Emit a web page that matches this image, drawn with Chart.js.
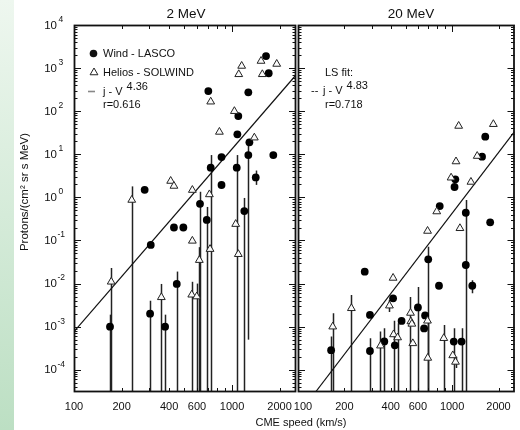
<!DOCTYPE html>
<html>
<head>
<meta charset="utf-8">
<script src="https://cdn.jsdelivr.net/npm/chart.js@4.4.1/dist/chart.umd.min.js"></script>
<style>
  html, body { margin: 0; padding: 0; background: #fff; }
  #wrap { position: relative; width: 520px; height: 430px; overflow: hidden; background: #fff; }
  #stripe { position: absolute; left: 0; top: 0; width: 14px; height: 430px;
    background: linear-gradient(to bottom, #eef7ef, #bcdfc3); }
  canvas { position: absolute; left: 0; top: 0; }
</style>
</head>
<body>
<div id="wrap">
  <div id="stripe"></div>
  <canvas id="mev2" width="520" height="430"></canvas>
  <canvas id="mev20" width="520" height="430"></canvas>
</div>
<script>
// axis ranges and tick labels
const speedMin = 100, speedMax = 2540;
const fluxMin = 3.05e-5, fluxMax = 1e4;
const speedTicks = [100, 200, 400, 600, 1000, 2000];
const speedTickLabels = ['100', '200', '400', '600', '1000', '2000'];
const fluxTickExps = [4, 3, 2, 1, 0, -1, -2, -3, -4];

// 2 MeV - Wind/LASCO (hi/lo = error bar ends, lo null = runs off the bottom)
const lascoSpeed2 = [169, 280, 303, 306, 377, 429, 447, 492, 627, 692, 708, 733, 858, 858, 1071, 1081, 1096, 1196, 1268, 1268, 1288, 1413, 1641, 1707, 1825];
const lascoFlux2 = [0.001, 1.5, 0.002, 0.079, 0.001, 0.2, 0.0098, 0.2, 0.71, 0.30, 293, 4.9, 1.94, 8.6, 4.9, 29, 77, 0.48, 274, 9.6, 19, 2.9, 1900, 760, 9.6];
const lascoHi2 = [0.0019, null, 0.004, null, 0.0019, null, 0.019, null, 1.35, 0.6, null, 9.6, null, null, 9.6, null, null, 0.97, null, 19, null, 4.2, null, null, null];
const lascoLo2 = [null, null, null, null, null, null, null, null, null, null, null, null, null, null, null, null, null, null, null, 0.0005, null, 1.95, null, null, null];

// 2 MeV - Helios/SOLWIND
const heliosSpeed2 = [172, 232, 357, 409, 429, 556, 598, 561, 561, 621, 719, 726, 733, 832, 1035, 1055, 1096, 1103, 1151, 1384, 1526, 1555, 1918];
const heliosFlux2 = [0.011, 0.87, 0.0048, 2.4, 1.84, 0.0055, 0.005, 1.48, 0.098, 0.035, 1.17, 0.063, 166, 33, 100, 0.24, 0.048, 718, 1120, 24.3, 1460, 718, 1245];
const heliosHi2 = [0.023, 1.8, 0.0098, null, null, 0.011, 0.01, null, null, 0.07, null, null, null, null, null, null, null, null, null, null, null, null, null];
const heliosLo2 = heliosHi2.map(() => null);

// 20 MeV - Wind/LASCO
const lascoSpeed20 = [1641, 1564, 1049, 1037, 831, 1227, 1766, 700, 1227, 271, 822, 1352, 414, 600, 293, 668, 470, 658, 363, 425, 1025, 1152, 164, 293];
const lascoFlux20 = [25.6, 8.8, 2.63, 1.74, 0.63, 0.44, 0.264, 0.0366, 0.027, 0.0189, 0.0089, 0.0089, 0.00456, 0.00279, 0.00187, 0.00182, 0.00136, 0.00091, 0.000454, 0.00037, 0.00045, 0.00045, 0.000285, 0.000273];
const lascoHi20 = [null, null, null, null, null, 0.87, null, 0.072, null, null, null, 0.012, null, 0.0083, null, null, null, null, 0.00092, null, 0.00092, 0.00092, 0.00059, 0.00054];
const lascoLo20 = [null, null, null, null, null, null, null, null, null, null, null, 0.006, null, null, null, null, null, null, null, null, null, null, null, null];

// 20 MeV - Helios/SOLWIND
const heliosSpeed20 = [1103, 1852, 1455, 1060, 985, 1325, 795, 693, 1124, 414, 392, 222, 537, 540, 548, 692, 168, 417, 443, 343, 556, 883, 1010, 1052, 695];
const heliosFlux20 = [45.4, 49.9, 9.1, 6.8, 2.86, 2.28, 0.47, 0.166, 0.192, 0.0135, 0.00307, 0.00267, 0.00208, 0.00132, 0.00116, 0.00137, 0.001, 0.00066, 0.00056, 0.000362, 0.00041, 0.00054, 0.000215, 0.000152, 0.000188];
const heliosHi20 = [null, null, null, null, null, null, null, null, null, null, 0.0042, 0.0054, 0.0049, null, null, null, 0.00205, 0.00138, 0.0012, 0.00077, null, 0.0011, null, 0.0002, 0.0012];
const heliosLo20 = [null, null, null, null, null, null, null, null, null, null, 0.0022, null, null, null, null, null, null, null, null, null, null, null, null, 0.00011, null];

// LS fit lines (end points)
const fitSpeed2 = [100, 2540], fitFlux2 = [7.7e-4, 692];
const fitSpeed20 = [130, 2540], fitFlux20 = [3.05e-5, 33.4];

const FONT = '"Liberation Sans", Arial, Helvetica, sans-serif';

function pts(xs, ys) {
    return xs.map((x, i) => ({ x: x, y: ys[i] }));
}

function logTicks(min, max) {
    const out = [];
    for (let e = Math.floor(Math.log10(min)); e <= Math.ceil(Math.log10(max)); e++) {
        for (let k = 1; k <= 9; k++) {
            const v = k * Math.pow(10, e);
            if (v >= min * 0.999 && v <= max * 1.001) out.push({ v: v, major: k === 1 });
        }
    }
    return out;
}

function tri(ctx, x, y, r) {
    ctx.beginPath();
    ctx.moveTo(x, y - r);
    ctx.lineTo(x + r * 0.866, y + r * 0.5);
    ctx.lineTo(x - r * 0.866, y + r * 0.5);
    ctx.closePath();
    ctx.fillStyle = '#fff';
    ctx.fill();
    ctx.strokeStyle = '#222';
    ctx.lineWidth = 1;
    ctx.stroke();
}

// text with a raised exponent
function supText(ctx, base, sup, x, y, size, supSize, raise) {
    ctx.textAlign = 'left';
    ctx.textBaseline = 'middle';
    ctx.font = size + 'px ' + FONT;
    ctx.fillText(base, x, y);
    const w = ctx.measureText(base).width;
    ctx.font = supSize + 'px ' + FONT;
    ctx.fillText(sup, x + w + 4, y - raise);
}

const panelPlugin = {
    id: 'panel',
    beforeDatasetsDraw(chart) {
        // error bars
        const ctx = chart.ctx, a = chart.chartArea;
        const xs = chart.scales.x, ys = chart.scales.y;
        ctx.save();
        ctx.beginPath();
        ctx.rect(a.left, a.top, a.right - a.left, a.bottom - a.top);
        ctx.clip();
        ctx.strokeStyle = '#222';
        ctx.lineWidth = 1.5;
        chart.data.datasets.forEach(ds => {
            if (!ds.hi) return;
            ds.data.forEach((p, i) => {
                if (ds.hi[i] == null) return;
                const px = Math.round(xs.getPixelForValue(p.x)) + 0.5;
                const top = ys.getPixelForValue(ds.hi[i]);
                const bot = ds.lo[i] == null ? a.bottom : ys.getPixelForValue(ds.lo[i]);
                ctx.beginPath();
                ctx.moveTo(px, top);
                ctx.lineTo(px, bot);
                ctx.stroke();
            });
        });
        ctx.restore();
    },
    afterDatasetsDraw(chart, args, opts) {
        const ctx = chart.ctx, a = chart.chartArea;
        const xs = chart.scales.x, ys = chart.scales.y;
        ctx.save();
        ctx.fillStyle = '#111';
        ctx.strokeStyle = '#111';

        // frame
        ctx.lineWidth = 1.8;
        ctx.strokeRect(a.left + 0.5, a.top + 0.5, a.right - a.left - 1, a.bottom - a.top - 1);

        // inward ticks on all sides
        ctx.lineWidth = 1;
        logTicks(fluxMin, fluxMax).forEach(t => {
            const y = Math.round(ys.getPixelForValue(t.v)) + 0.5;
            const len = t.major ? 7 : 3.5;
            ctx.beginPath();
            ctx.moveTo(a.left, y); ctx.lineTo(a.left + len, y);
            ctx.moveTo(a.right, y); ctx.lineTo(a.right - len, y);
            ctx.stroke();
        });
        logTicks(speedMin, speedMax).forEach(t => {
            const x = Math.round(xs.getPixelForValue(t.v)) + 0.5;
            const len = t.major ? 7 : 4;
            ctx.beginPath();
            ctx.moveTo(x, a.bottom); ctx.lineTo(x, a.bottom - len);
            ctx.moveTo(x, a.top); ctx.lineTo(x, a.top + len);
            ctx.stroke();
        });

        // x tick labels
        ctx.font = '11px ' + FONT;
        ctx.textAlign = 'center';
        ctx.textBaseline = 'middle';
        speedTicks.forEach((v, i) => {
            let x = xs.getPixelForValue(v);
            if (i === 0) x += opts.firstShift || 0;
            ctx.fillText(speedTickLabels[i], x, 407);
        });

        // y tick labels
        if (opts.yLabels) {
            fluxTickExps.forEach(e => {
                const y = ys.getPixelForValue(Math.pow(10, e));
                ctx.font = '11.5px ' + FONT;
                ctx.textAlign = 'right';
                ctx.textBaseline = 'middle';
                ctx.fillText('10', 57, y + 0.5);
                ctx.font = '8.5px ' + FONT;
                ctx.textAlign = 'left';
                ctx.fillText(String(e), e < 0 ? 57.5 : 58.5, y - 5.5);
            });
            // y axis title
            ctx.save();
            ctx.translate(25, 192);
            ctx.rotate(-Math.PI / 2);
            ctx.textAlign = 'center';
            ctx.textBaseline = 'middle';
            ctx.font = '11.5px ' + FONT;
            ctx.fillText('Protons/(cm\u00B2 sr s MeV)', 0, 0);
            ctx.restore();
            // x axis title
            ctx.font = '11px ' + FONT;
            ctx.textAlign = 'center';
            ctx.textBaseline = 'middle';
            ctx.fillText('CME speed (km/s)', 301, 423);
        }

        // panel title
        ctx.font = '13.5px ' + FONT;
        ctx.textAlign = 'center';
        ctx.textBaseline = 'middle';
        ctx.fillText(opts.title, opts.titleX, 14);

        // legend / fit annotation
        ctx.font = '11px ' + FONT;
        if (opts.legend === 'full') {
            ctx.beginPath();
            ctx.arc(93.5, 53.5, 3.8, 0, Math.PI * 2);
            ctx.fill();
            ctx.textAlign = 'left';
            ctx.textBaseline = 'middle';
            ctx.fillText('Wind - LASCO', 103, 53.5);
            tri(ctx, 94, 72.5, 4.5);
            ctx.fillStyle = '#111';
            ctx.fillText('Helios - SOLWIND', 103, 72.5);
            ctx.strokeStyle = '#888';
            ctx.lineWidth = 1.6;
            ctx.beginPath();
            ctx.moveTo(88, 91.5); ctx.lineTo(95, 91.5);
            ctx.stroke();
            supText(ctx, 'j - V', opts.exponent, 103, 91.5, 11, 11, 4.5);
            ctx.font = '11px ' + FONT;
            ctx.fillText(opts.r, 103, 104.5);
        } else {
            ctx.textAlign = 'left';
            ctx.textBaseline = 'middle';
            ctx.fillText('LS fit:', 325, 72.5);
            ctx.fillText('--', 311, 90.5);
            supText(ctx, 'j - V', opts.exponent, 323, 90.5, 11, 11, 4.5);
            ctx.font = '11px ' + FONT;
            ctx.fillText(opts.r, 325, 104.5);
        }
        ctx.restore();
    }
};

function makePanel(id, padding, lasco, helios, fit, panelOpts) {
    return new Chart(document.getElementById(id), {
        type: 'scatter',
        data: {
            datasets: [
                {
                    label: 'Helios - SOLWIND',
                    data: pts(helios.speed, helios.flux),
                    hi: helios.hi, lo: helios.lo,
                    pointStyle: 'triangle',
                    pointRadius: 4.5,
                    backgroundColor: '#fafafa',
                    borderColor: '#222',
                    borderWidth: 1
                },
                {
                    label: 'Wind - LASCO',
                    data: pts(lasco.speed, lasco.flux),
                    hi: lasco.hi, lo: lasco.lo,
                    pointStyle: 'circle',
                    pointRadius: 3.9,
                    backgroundColor: '#000',
                    borderColor: '#000',
                    borderWidth: 0
                },
                {
                    label: 'LS fit',
                    data: pts(fit.speed, fit.flux),
                    showLine: true,
                    pointRadius: 0,
                    borderColor: '#111',
                    borderWidth: 1.2,
                    fill: false
                }
            ]
        },
        options: {
            responsive: false,
            animation: false,
            devicePixelRatio: 1,
            layout: { padding: padding },
            scales: {
                x: { type: 'logarithmic', min: speedMin, max: speedMax, display: false },
                y: { type: 'logarithmic', min: fluxMin, max: fluxMax, display: false }
            },
            plugins: {
                legend: { display: false },
                tooltip: { enabled: false },
                panel: panelOpts
            }
        },
        plugins: [panelPlugin]
    });
}

makePanel('mev2', { left: 74, right: 224, top: 25, bottom: 38 },
    { speed: lascoSpeed2, flux: lascoFlux2, hi: lascoHi2, lo: lascoLo2 },
    { speed: heliosSpeed2, flux: heliosFlux2, hi: heliosHi2, lo: heliosLo2 },
    { speed: fitSpeed2, flux: fitFlux2 },
    { title: '2 MeV', titleX: 186, yLabels: true, legend: 'full', exponent: '4.36', r: 'r=0.616', firstShift: 0 });

makePanel('mev20', { left: 298, right: 0, top: 25, bottom: 38 },
    { speed: lascoSpeed20, flux: lascoFlux20, hi: lascoHi20, lo: lascoLo20 },
    { speed: heliosSpeed20, flux: heliosFlux20, hi: heliosHi20, lo: heliosLo20 },
    { speed: fitSpeed20, flux: fitFlux20 },
    { title: '20 MeV', titleX: 411, yLabels: false, legend: 'fit', exponent: '4.83', r: 'r=0.718', firstShift: 5 });
</script>
</body>
</html>
